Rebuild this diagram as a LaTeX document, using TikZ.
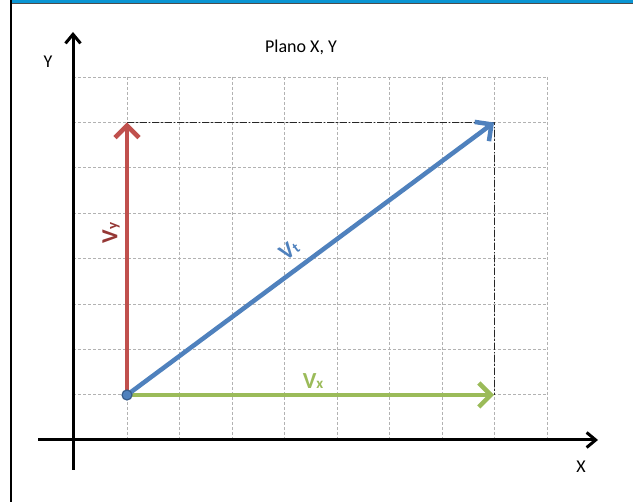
\documentclass[tikz,border=0pt]{standalone}
\usepackage{fontspec}
\setmainfont{Carlito}
\usetikzlibrary{arrows.meta}
\definecolor{topblue}{HTML}{0A95D3}
\definecolor{vred}{HTML}{C0504D}
\definecolor{vredtxt}{HTML}{953735}
\definecolor{vgreen}{HTML}{9BBB59}
\definecolor{vblue}{HTML}{4F81BD}
\definecolor{vbluedark}{HTML}{385D8A}
\tikzset{
  gridline/.style={draw=black!30, line width=0.6pt, dash pattern=on 3pt off 2pt},
  axisline/.style={draw=black, line width=3pt, -{Straight Barb[length=9pt,width=15pt,line width=3pt]}},
  vecline/.style={line width=4.5pt, -{Straight Barb[length=12pt,width=24pt,line width=4.5pt]}},
  dashdot/.style={draw=black!85, line width=1pt, dash pattern=on 7pt off 2pt on 1.5pt off 2pt},
  lbl/.style={font=\fontsize{18}{20}\selectfont, inner sep=0pt},
  vlbl/.style={inner sep=0pt, font=\fontsize{23}{25}\selectfont\bfseries}
}
\newcommand{\vsub}[1]{V{\fontsize{15}{16}\selectfont\bfseries #1}}
\begin{document}
\begin{tikzpicture}[x=1pt,y=-1pt]
\useasboundingbox (0,0) rectangle (633,502);
\fill[white] (0,0) rectangle (633,502);
% frame
\fill[topblue] (11,0) rectangle (633,3.2);
\draw[black!70, line width=1pt] (11,3.6) -- (633,3.6);
\draw[black, line width=1.5pt] (11,0) -- (11,502);
% grid
\foreach \k in {0,...,8} {
  \draw[gridline] (127+52.5*\k,77) -- (127+52.5*\k,440);
}
\foreach \j in {0,...,7} {
  \draw[gridline] (73,77+45.375*\j) -- (547,77+45.375*\j);
}
% coordinates
\coordinate (O) at (127,395);
\coordinate (Vxend) at (494,395);
\coordinate (Vyend) at (127,122.5);
\coordinate (Vtend) at (494,122.5);
\coordinate (xa0) at (38,440);
\coordinate (xa1) at (598,440);
\coordinate (ya0) at (73,470);
\coordinate (ya1) at (73,32);
% axes
\draw[axisline] (xa0) -- (xa1);
\draw[axisline] (ya0) -- (ya1);
% dash-dot projection
\draw[dashdot] (Vyend) -- (Vtend) -- (Vxend);
% vectors
\draw[vecline, draw=vgreen] (O) -- (Vxend);
\draw[vecline, draw=vred] (O) -- (Vyend);
\draw[vecline, draw=vblue] (O) -- (Vtend);
\node[circle, fill=vblue, draw=vbluedark, line width=1.2pt, minimum size=10pt, inner sep=0pt] (dot) at (O) {};
% labels
\node[lbl] (title) at (301,47) {Plano X, Y};
\node[lbl] (ylab) at (48,62) {Y};
\node[lbl] (xlab) at (581,467) {X};
\node[vlbl, text=vgreen] (vxl) at (313,381) {\vsub{x}};
\node[vlbl, text=vredtxt, rotate=90] (vyl) at (111,233) {\vsub{y}};
\node[vlbl, text=vblue, rotate=36.6] (vtl) at (289,250) {\vsub{t}};
\end{tikzpicture}
\end{document}
